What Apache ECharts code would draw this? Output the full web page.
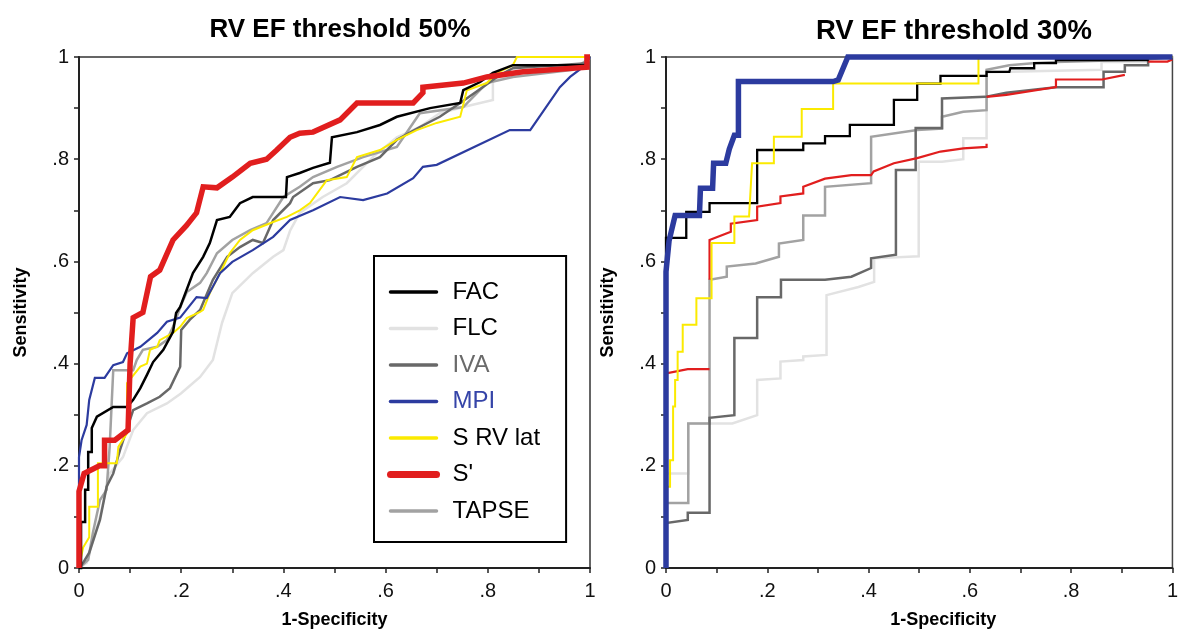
<!DOCTYPE html>
<html>
<head>
<meta charset="utf-8">
<script src="https://cdn.jsdelivr.net/npm/echarts@6/dist/echarts.min.js"></script>
<style>
  html, body { margin: 0; padding: 0; background: #fff; }
  #chart { width: 1181px; height: 637px; }
</style>
</head>
<body>
<div id="chart"></div>
<script>
// Panel titles, axis names and tick labels
const panelTitles = ['RV EF threshold 50%', 'RV EF threshold 30%'];
const xAxisName = '1-Specificity';
const yAxisName = 'Sensitivity';
const tickValues = [0, 0.2, 0.4, 0.6, 0.8, 1];
const tickLabels = ['0', '.2', '.4', '.6', '.8', '1'];
const methods = ['FAC', 'FLC', 'IVA', 'MPI', 'S RV lat', "S'", 'TAPSE'];

// ROC curves, RV EF threshold 50%  — points are [1-specificity, sensitivity]
const ef50_FAC = [[0,0],[0.004,0],[0.004,0.09],[0.012,0.09],[0.012,0.153],[0.018,0.153],[0.018,0.227],[0.025,0.227],[0.025,0.274],[0.035,0.296],[0.067,0.315],[0.094,0.315],[0.106,0.329],[0.12,0.352],[0.133,0.378],[0.145,0.403],[0.165,0.427],[0.184,0.462],[0.19,0.499],[0.198,0.511],[0.223,0.577],[0.243,0.609],[0.256,0.636],[0.27,0.681],[0.295,0.687],[0.315,0.714],[0.34,0.726],[0.405,0.726],[0.407,0.765],[0.432,0.773],[0.458,0.783],[0.491,0.793],[0.495,0.843],[0.544,0.853],[0.589,0.867],[0.622,0.883],[0.687,0.9],[0.746,0.91],[0.752,0.935],[0.785,0.951],[0.81,0.969],[0.849,0.984],[0.994,0.984],[0.994,1],[1,1]];
const ef50_FLC = [[0,0],[0.015,0.01],[0.041,0.1],[0.06,0.185],[0.086,0.217],[0.106,0.27],[0.133,0.303],[0.172,0.322],[0.2,0.342],[0.237,0.374],[0.262,0.407],[0.28,0.48],[0.3,0.538],[0.34,0.577],[0.38,0.609],[0.4,0.622],[0.413,0.66],[0.432,0.695],[0.477,0.726],[0.524,0.753],[0.575,0.804],[0.622,0.843],[0.667,0.863],[0.706,0.89],[0.752,0.902],[0.81,0.916],[0.81,0.955],[0.883,0.975],[0.994,0.988],[1,1]];
const ef50_IVA = [[0,0],[0.008,0.01],[0.02,0.03],[0.041,0.094],[0.054,0.159],[0.067,0.185],[0.08,0.23],[0.106,0.309],[0.133,0.322],[0.158,0.335],[0.178,0.352],[0.198,0.394],[0.2,0.466],[0.217,0.486],[0.237,0.505],[0.262,0.564],[0.29,0.609],[0.315,0.628],[0.34,0.642],[0.36,0.636],[0.38,0.681],[0.413,0.714],[0.419,0.726],[0.458,0.753],[0.491,0.759],[0.544,0.785],[0.589,0.804],[0.622,0.838],[0.667,0.863],[0.706,0.883],[0.746,0.91],[0.79,0.941],[0.818,0.961],[0.849,0.978],[0.994,0.988],[1,1]];
const ef50_MPI = [[0,0],[0,0.217],[0.005,0.25],[0.015,0.28],[0.02,0.329],[0.031,0.372],[0.05,0.372],[0.067,0.397],[0.086,0.403],[0.094,0.42],[0.12,0.433],[0.153,0.46],[0.172,0.482],[0.198,0.49],[0.23,0.53],[0.25,0.528],[0.276,0.577],[0.3,0.599],[0.34,0.622],[0.38,0.648],[0.413,0.681],[0.458,0.7],[0.511,0.726],[0.556,0.72],[0.603,0.733],[0.654,0.763],[0.673,0.785],[0.7,0.789],[0.843,0.857],[0.883,0.857],[0.941,0.941],[0.961,0.961],[0.986,0.98],[1,1]];
const ef50_SRVlat = [[0,0],[0.002,0.01],[0.008,0.04],[0.02,0.06],[0.02,0.12],[0.037,0.12],[0.037,0.205],[0.074,0.205],[0.077,0.237],[0.094,0.264],[0.094,0.362],[0.12,0.394],[0.133,0.4],[0.139,0.427],[0.153,0.433],[0.158,0.446],[0.184,0.46],[0.198,0.472],[0.211,0.489],[0.237,0.501],[0.243,0.505],[0.256,0.538],[0.276,0.577],[0.295,0.616],[0.315,0.642],[0.34,0.661],[0.38,0.677],[0.407,0.687],[0.432,0.7],[0.452,0.714],[0.485,0.759],[0.524,0.765],[0.544,0.804],[0.589,0.818],[0.622,0.838],[0.661,0.857],[0.7,0.871],[0.746,0.883],[0.759,0.935],[0.798,0.949],[0.818,0.969],[0.849,0.984],[0.857,1],[1,1]];
const ef50_Sprime = [[0,0],[0,0.15],[0.01,0.185],[0.04,0.2],[0.05,0.2],[0.05,0.25],[0.07,0.25],[0.096,0.27],[0.1,0.4],[0.106,0.49],[0.125,0.5],[0.14,0.57],[0.158,0.583],[0.184,0.642],[0.21,0.67],[0.23,0.695],[0.243,0.746],[0.27,0.744],[0.3,0.765],[0.335,0.792],[0.367,0.8],[0.387,0.818],[0.413,0.843],[0.432,0.851],[0.458,0.853],[0.511,0.877],[0.544,0.91],[0.654,0.91],[0.673,0.93],[0.673,0.941],[0.752,0.949],[0.798,0.961],[0.869,0.971],[0.994,0.98],[0.994,1],[1,1]];
const ef50_TAPSE = [[0,0],[0.018,0.016],[0.027,0.068],[0.041,0.133],[0.054,0.153],[0.06,0.237],[0.067,0.387],[0.106,0.387],[0.113,0.407],[0.125,0.427],[0.153,0.433],[0.172,0.446],[0.184,0.472],[0.2,0.515],[0.211,0.54],[0.237,0.558],[0.25,0.577],[0.27,0.616],[0.3,0.642],[0.335,0.661],[0.367,0.675],[0.4,0.726],[0.432,0.746],[0.458,0.765],[0.505,0.785],[0.556,0.804],[0.622,0.824],[0.667,0.89],[0.752,0.902],[0.798,0.949],[0.849,0.961],[0.967,0.975],[0.994,0.994],[1,1]];

// ROC curves, RV EF threshold 30%  (null marks a break in the drawn curve)
const ef30_FAC = [[0,0],[0,0.646],[0.04,0.646],[0.04,0.697],[0.086,0.697],[0.086,0.714],[0.18,0.714],[0.18,0.818],[0.271,0.818],[0.271,0.831],[0.314,0.831],[0.314,0.845],[0.363,0.845],[0.363,0.867],[0.45,0.867],[0.45,0.916],[0.496,0.916],[0.496,0.948],[0.542,0.948],[0.542,0.963],[0.633,0.963],[0.633,0.971],[0.678,0.971],[0.68,0.978],[0.727,0.978],[0.727,0.988],[0.77,0.988],[0.77,0.994],[0.951,0.994],[0.951,1],[1,1]];
const ef30_FLC = [[0,0],[0,0.185],[0.044,0.185],[0.044,0.283],[0.131,0.283],[0.18,0.299],[0.18,0.368],[0.226,0.371],[0.226,0.404],[0.271,0.407],[0.271,0.414],[0.317,0.417],[0.317,0.534],[0.38,0.55],[0.411,0.56],[0.411,0.606],[0.499,0.61],[0.499,0.795],[0.545,0.795],[0.587,0.8],[0.587,0.841],[0.633,0.841],[0.633,0.97],[0.86,0.975],[0.86,0.99],[0.95,0.99],[0.95,1],[1,1]];
const ef30_IVA = [[0,0],[0,0.088],[0.043,0.094],[0.043,0.108],[0.086,0.108],[0.086,0.294],[0.135,0.299],[0.135,0.45],[0.18,0.45],[0.18,0.53],[0.227,0.53],[0.227,0.564],[0.314,0.564],[0.366,0.57],[0.405,0.587],[0.405,0.606],[0.454,0.613],[0.454,0.779],[0.493,0.779],[0.493,0.861],[0.545,0.861],[0.545,0.919],[0.63,0.922],[0.672,0.93],[0.77,0.941],[0.864,0.941],[0.864,0.971],[0.906,0.971],[0.906,0.984],[0.952,0.984],[0.952,0.997],[1,1]];
const ef30_MPI = [[0,0],[0,0.58],[0.006,0.64],[0.018,0.69],[0.066,0.69],[0.068,0.743],[0.092,0.743],[0.094,0.792],[0.118,0.792],[0.125,0.82],[0.135,0.847],[0.143,0.847],[0.143,0.952],[0.33,0.952],[0.34,0.955],[0.359,1],[1,1]];
const ef30_SRVlat = [[0,0],[0,0.055],[0.002,0.055],[0.002,0.159],[0.008,0.159],[0.008,0.211],[0.014,0.211],[0.014,0.316],[0.018,0.316],[0.018,0.368],[0.023,0.368],[0.023,0.423],[0.033,0.423],[0.033,0.476],[0.06,0.476],[0.06,0.528],[0.09,0.528],[0.09,0.636],[0.135,0.636],[0.135,0.688],[0.164,0.688],[0.17,0.792],[0.213,0.792],[0.213,0.844],[0.268,0.844],[0.268,0.898],[0.33,0.898],[0.33,0.948],[0.617,0.948],[0.617,1],[1,1]];
const ef30_Sprime = [[0,0],[0,0.381],[0.043,0.389],[0.086,0.389],[0.086,null],[0.086,0.564],[0.086,0.642],[0.128,0.658],[0.128,0.674],[0.18,0.681],[0.18,0.707],[0.226,0.714],[0.226,0.727],[0.271,0.733],[0.271,0.746],[0.314,0.762],[0.366,0.769],[0.405,0.769],[0.41,0.776],[0.45,0.792],[0.496,0.802],[0.542,0.815],[0.587,0.821],[0.633,0.824],[0.633,0.83],[0.633,null],[0.633,0.922],[0.672,0.926],[0.77,0.941],[0.77,0.956],[0.861,0.956],[0.906,0.965],[0.906,null],[0.952,0.991],[0.99,0.991],[1,0.995]];
const ef30_TAPSE = [[0,0],[0,0.127],[0.044,0.127],[0.044,0.283],[0.086,0.283],[0.086,0.564],[0.12,0.57],[0.12,0.59],[0.177,0.596],[0.223,0.609],[0.223,0.635],[0.271,0.642],[0.271,0.69],[0.314,0.69],[0.314,0.746],[0.405,0.753],[0.405,0.844],[0.496,0.857],[0.545,0.86],[0.545,0.883],[0.587,0.893],[0.633,0.896],[0.633,0.975],[0.678,0.984],[0.724,0.988],[0.77,0.99],[0.95,0.995],[1,1]];

const colors = {
  'FAC': '#000000',
  'FLC': '#e2e2e2',
  'IVA': '#686868',
  'MPI': '#2c3b9f',
  'S RV lat': '#fbea00',
  "S'": '#e11e1e',
  'TAPSE': '#a2a2a2'
};
const legendTextColors = { 'IVA': '#6a6a6a', 'MPI': '#3544a8' };

const FONT = "'Liberation Sans', Arial, Helvetica, sans-serif";

function tickFormatter(v) {
  for (let i = 0; i < tickValues.length; i++) {
    if (Math.abs(v - tickValues[i]) < 1e-6) return tickLabels[i];
  }
  return '';
}

function valueAxis(gridIndex, isX, nameShift) {
  const ax = {
    type: 'value', gridIndex, min: 0, max: 1, interval: 0.1,
    splitLine: { show: false },
    axisLine: { show: true, lineStyle: { color: '#222', width: 2 } },
    axisTick: { show: true, length: 5, lineStyle: { color: '#222', width: 1.5 } },
    axisLabel: { formatter: tickFormatter, color: '#111', fontFamily: FONT, fontSize: 20, margin: isX ? 13 : 10 },
    name: isX ? xAxisName : yAxisName,
    nameLocation: 'middle',
    nameTextStyle: { fontFamily: FONT, fontWeight: 'bold', fontSize: 18, color: '#000' }
  };
  if (isX) {
    ax.nameGap = 43;
    ax.nameTextStyle.padding = [0, 0, 0, nameShift || 0];
  } else {
    ax.nameGap = 49;
  }
  return ax;
}

function makeSeries(name, data, idx, width, z) {
  return {
    type: 'line', name, data,
    xAxisIndex: idx, yAxisIndex: idx,
    showSymbol: false, symbol: 'none',
    clip: false, connectNulls: false,
    animation: false, z,
    lineStyle: { color: colors[name], width, join: 'miter', cap: 'butt' },
    itemStyle: { color: colors[name] }
  };
}

const series = [
  // left panel
  makeSeries('FLC', ef50_FLC, 0, 2.5, 2),
  makeSeries('TAPSE', ef50_TAPSE, 0, 2.5, 3),
  makeSeries('IVA', ef50_IVA, 0, 2.5, 4),
  makeSeries('S RV lat', ef50_SRVlat, 0, 2, 5),
  makeSeries('MPI', ef50_MPI, 0, 2.2, 6),
  makeSeries('FAC', ef50_FAC, 0, 2.5, 7),
  makeSeries("S'", ef50_Sprime, 0, 5.5, 8),
  // right panel
  makeSeries('FLC', ef30_FLC, 1, 2.5, 2),
  makeSeries('TAPSE', ef30_TAPSE, 1, 2.5, 3),
  makeSeries('IVA', ef30_IVA, 1, 2.5, 4),
  makeSeries("S'", ef30_Sprime, 1, 2.2, 5),
  makeSeries('FAC', ef30_FAC, 1, 2.3, 6),
  makeSeries('S RV lat', ef30_SRVlat, 1, 2, 7),
  makeSeries('MPI', ef30_MPI, 1, 5.5, 8)
];

// Legend order follows the method list; plain line swatches, S' with the heavy stroke
const legendData = methods.map(m => ({
  name: m,
  lineStyle: { width: m === "S'" ? 7 : 3.5, color: colors[m], cap: 'round' },
  itemStyle: { opacity: 0 },
  textStyle: { color: legendTextColors[m] || '#000' }
}));

const option = {
  backgroundColor: '#ffffff',
  animation: false,
  title: [
    { text: panelTitles[0], left: 335, top: 12, textAlign: 'center',
      textStyle: { fontFamily: FONT, fontWeight: 'bold', fontSize: 26, color: '#000' } },
    { text: panelTitles[1], left: 949, top: 12, textAlign: 'center',
      textStyle: { fontFamily: FONT, fontWeight: 'bold', fontSize: 27.5, color: '#000' } }
  ],
  grid: [
    { left: 79, top: 57, width: 511, height: 511, show: true, borderColor: '#333', borderWidth: 1.5, backgroundColor: 'transparent' },
    { left: 666, top: 57, width: 512, height: 511, show: true, borderColor: '#444', borderWidth: 1.5, backgroundColor: 'transparent' }
  ],
  xAxis: [valueAxis(0, true, 0), valueAxis(1, true, 48)],
  yAxis: [valueAxis(0, false), valueAxis(1, false)],
  legend: {
    data: legendData,
    orient: 'vertical',
    left: 374, top: 256,
    itemWidth: 46, itemHeight: 14, itemGap: 12.5,
    padding: [24, 26, 19, 13],
    borderColor: '#000', borderWidth: 2,
    backgroundColor: '#fff',
    selectedMode: false,
    z: 20,
    textStyle: { fontFamily: FONT, fontSize: 24, color: '#000', padding: [0, 0, 0, 11] }
  },
  series
};

const chart = echarts.init(document.getElementById('chart'), null, { renderer: 'canvas' });
chart.setOption(option);
</script>
</body>
</html>
